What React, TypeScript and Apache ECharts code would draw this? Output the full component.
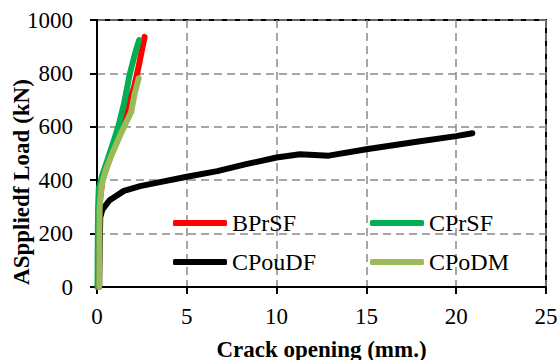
import React, { useEffect, useRef } from "react";
import * as echarts from "echarts";

const seriesNames = ["BPrSF", "CPrSF", "CPouDF", "CPoDM"];
const seriesColors = ["#FF0000", "#00B050", "#000000", "#9BBB59"];

const bprsf: number[][] = [
  [0.05, 0], [0.08, 150], [0.12, 300], [0.3, 400], [0.7, 480], [1.1, 560],
  [1.5, 640], [1.8, 700], [2.05, 745], [2.3, 820], [2.45, 870], [2.65, 937],
];
const cprsf: number[][] = [
  [0.03, 0], [0.04, 150], [0.06, 300], [0.1, 370], [0.3, 420], [0.6, 480],
  [0.9, 540], [1.2, 605], [1.5, 685], [1.8, 790], [2.1, 870], [2.3, 915], [2.35, 925],
];
const cpoudf: number[][] = [
  [0.12, 0], [0.15, 150], [0.18, 260], [0.3, 290], [0.7, 325], [1.5, 360],
  [2.4, 378], [3.3, 390], [5, 413], [6.7, 434], [8.3, 460], [10, 485],
  [11.3, 497], [12.9, 492], [15, 516], [17.8, 544], [20, 565], [20.9, 576],
];
const cpodm: number[][] = [
  [0.12, 0], [0.13, 150], [0.15, 300], [0.25, 380], [0.5, 440], [0.85, 500],
  [1.3, 570], [1.65, 620], [1.9, 655], [2.1, 725], [2.32, 782],
];

const xTitle = "Crack opening (mm.)";
const yTitle = "ASppliedf Load (kN)";
const FONT = "Liberation Serif";

export default function App() {
  const ref = useRef<HTMLDivElement>(null);
  useEffect(() => {
    if (!ref.current) return;
    const chart = echarts.init(ref.current, undefined, { renderer: "svg" });
    const mk = (i: number, data: number[][], z: number, w: number) => ({
      name: seriesNames[i],
      type: "line",
      data,
      showSymbol: false,
      symbol: "none",
      z,
      lineStyle: { color: seriesColors[i], width: w, cap: "round", join: "round" },
      itemStyle: { color: seriesColors[i] },
    });
    const legendCommon = {
      orient: "vertical",
      padding: 0,
      itemWidth: 54,
      itemHeight: 6,
      itemGap: 11,
      icon: "roundRect",
      textStyle: { fontFamily: FONT, fontSize: 24, color: "#000", lineHeight: 28 },
    };
    chart.setOption({
      animation: false,
      backgroundColor: "#fff",
      textStyle: { fontFamily: FONT },
      grid: {
        left: 97,
        right: 13,
        top: 20,
        bottom: 73,
        containLabel: false,
        outerBoundsMode: "none",
        show: true,
        borderColor: "#000",
        borderWidth: 2,
        backgroundColor: "transparent",
      },
      legend: [
        { ...legendCommon, left: 173, top: 209, data: [seriesNames[0], seriesNames[2]] },
        { ...legendCommon, left: 370, top: 209, data: [seriesNames[1], seriesNames[3]] },
      ],
      xAxis: {
        type: "value",
        min: 0,
        max: 25,
        interval: 5,
        name: xTitle,
        nameLocation: "middle",
        nameGap: 51,
        nameTextStyle: { fontFamily: FONT, fontSize: 23, fontWeight: "bold", color: "#000" },
        axisLine: { show: true, onZero: false, lineStyle: { color: "#000", width: 2 } },
        axisTick: { show: true, length: 7, lineStyle: { color: "#000", width: 2 } },
        axisLabel: { fontFamily: FONT, fontSize: 23, color: "#000", margin: 18, formatter: (v: number) => String(v) },
        splitLine: { show: true, lineStyle: { color: "#8a8a8a", width: 1.5, type: [8, 5] } },
      },
      yAxis: {
        type: "value",
        min: 0,
        max: 1000,
        interval: 200,
        axisLine: { show: true, lineStyle: { color: "#000", width: 2 } },
        axisTick: { show: true, length: 7, lineStyle: { color: "#000", width: 2 } },
        axisLabel: { fontFamily: FONT, fontSize: 23, color: "#000", margin: 24, formatter: (v: number) => String(v) },
        splitLine: { show: true, lineStyle: { color: "#8a8a8a", width: 1.5, type: [8, 5] } },
      },
      graphic: [
        {
          type: "text",
          x: 21,
          y: 182,
          rotation: Math.PI / 2,
          style: {
            text: yTitle,
            fontFamily: FONT,
            fontSize: 23,
            fontWeight: "bold",
            fill: "#000",
            textAlign: "center",
            textVerticalAlign: "middle",
          },
        },
      ],
      series: [
        mk(0, bprsf, 2, 6),
        mk(1, cprsf, 3, 6),
        mk(2, cpoudf, 4, 6),
        mk(3, cpodm, 5, 6),
      ],
    });
    return () => chart.dispose();
  }, []);
  return (
    <div
      ref={ref}
      style={{ position: "fixed", left: 0, top: 0, width: 559, height: 360 }}
    />
  );
}
